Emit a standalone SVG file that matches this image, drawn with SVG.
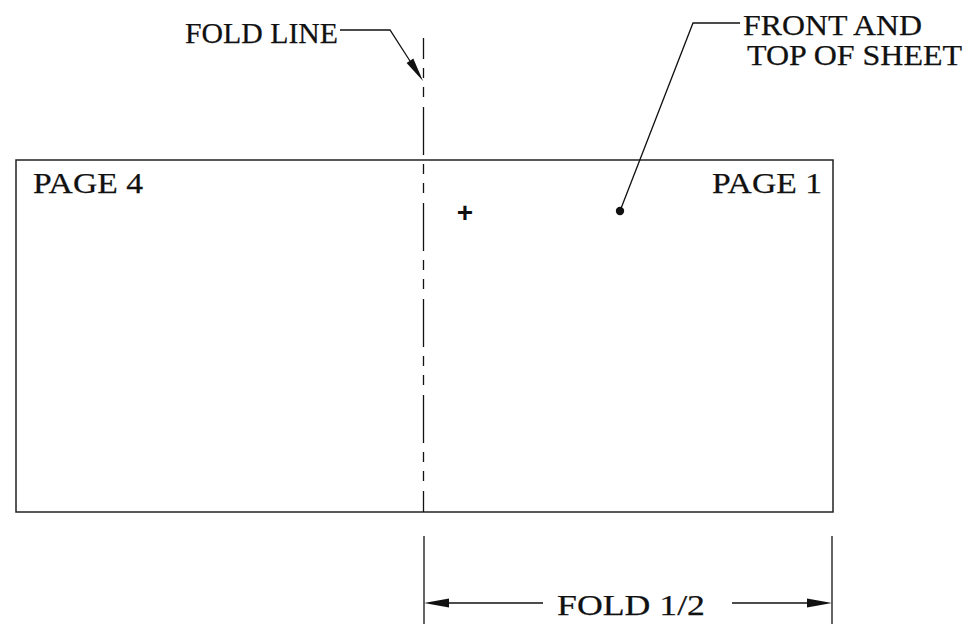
<svg xmlns="http://www.w3.org/2000/svg" width="971" height="624" viewBox="0 0 971 624">
<style>
.ln{stroke:#111;stroke-width:1.3;fill:none}
.t{font-family:"Liberation Serif","Times New Roman",serif;font-size:30px;fill:#111;stroke:#111;stroke-width:0.25}
.ah{fill:#111;stroke:none}
</style>
<rect width="971" height="624" fill="#fff"/>
<g id="sheet">
<rect x="16" y="160" width="817" height="352" fill="none" stroke="#222" stroke-width="1.5"/>
<text class="t" x="33" y="193" textLength="110" lengthAdjust="spacingAndGlyphs">PAGE 4</text>
<text class="t" x="712" y="193" textLength="110" lengthAdjust="spacingAndGlyphs">PAGE 1</text>
<text x="465" y="222" text-anchor="middle" font-family="Liberation Sans, Arial, sans-serif" font-size="28" font-weight="bold" fill="#111">+</text>
</g>
<g id="fold-line">
<line class="ln" x1="423.5" y1="38" x2="423.5" y2="512" stroke-dasharray="48 9 10 9 10 10" stroke-dashoffset="27"/>
</g>
<g id="label-fold-line">
<text class="t" x="185" y="43" textLength="153" lengthAdjust="spacingAndGlyphs">FOLD LINE</text>
</g>
<g id="label-front">
<text class="t" x="743" y="35" textLength="179" lengthAdjust="spacingAndGlyphs">FRONT AND</text>
<text class="t" x="747" y="65" textLength="215" lengthAdjust="spacingAndGlyphs">TOP OF SHEET</text>
</g>
<g id="dimension">
<text class="t" x="557" y="615" textLength="148" lengthAdjust="spacingAndGlyphs">FOLD 1/2</text>
</g>
<g id="connectors">
<polyline class="ln" points="340,30 390,30 410,61"/>
<polygon class="ah" points="423,81 406.6,63 413.3,58.6"/>
<polyline class="ln" points="740,23 693,23 620,211"/>
<circle cx="620" cy="211" r="4.2" fill="#111"/>
<line class="ln" x1="424" y1="536" x2="424" y2="624"/>
<line class="ln" x1="832" y1="536" x2="832" y2="624"/>
<line class="ln" x1="446" y1="603" x2="543" y2="603"/>
<line class="ln" x1="732" y1="603" x2="810" y2="603"/>
<polygon class="ah" points="424,603 449,598.5 449,607.5"/>
<polygon class="ah" points="832,603 807,598.5 807,607.5"/>
</g>
</svg>
